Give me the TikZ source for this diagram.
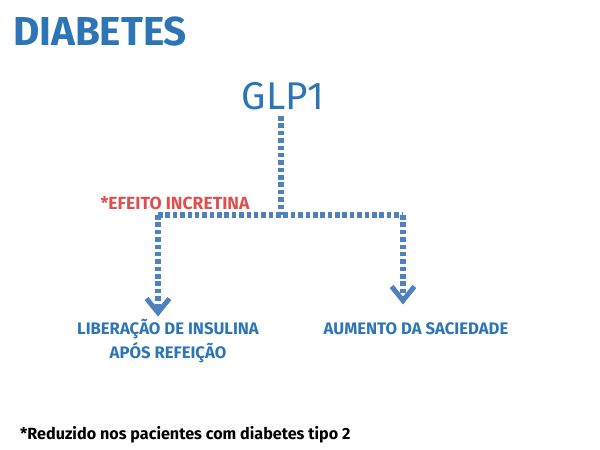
\documentclass[tikz,border=0pt]{standalone}
\usepackage{fontspec}
\setmainfont{Fira Sans}
\usetikzlibrary{arrows.meta}

\definecolor{titleblue}{RGB}{46,117,182}
\definecolor{lineblue}{RGB}{79,129,189}
\definecolor{notered}{RGB}{222,80,80}

\begin{document}
\begin{tikzpicture}[x=0.02cm, y=-0.02cm,
  dotline/.style={lineblue, line width=3.3pt, dash pattern=on 2.6pt off 1.6pt},
  dotarrow/.style={dotline, -{Straight Barb[length=8pt, width=13pt, line width=2.8pt]}},
  effect/.style={titleblue, font=\fontsize{9.5}{13.6}\selectfont\bfseries, align=center}]

% Canvas
\useasboundingbox (0,0) rectangle (600,450);

% Title and hormone
\node[titleblue, font=\fontsize{23}{27}\selectfont\bfseries] (title) at (100,31) {DIABETES};
\node[titleblue, font=\fontsize{22}{27}\selectfont] (glp) at (283,96) {GLP1};

% Branch points
\coordinate (junc) at (281,215);
\coordinate (left) at (158,215);
\coordinate (right) at (403,215);

% Effects
\node[effect] (lib) at (168,341) {LIBERAÇÃO DE INSULINA\\APÓS REFEIÇÃO};
\node[effect] (aum) at (416,329) {AUMENTO DA SACIEDADE};

% Dotted connectors
\draw[dotline] (glp.south -| junc) -- (junc);
\draw[dotline] (left) -- (right);
\draw[dotarrow] (left) -- ([yshift=-2pt]lib.north -| left);
\draw[dotarrow] (right) -- ([yshift=7pt]aum.north -| right);

% Labels
\node[notered, font=\fontsize{10}{12}\selectfont\bfseries] (incr) at (175,203) {*EFEITO INCRETINA};
\node[anchor=west, font=\fontsize{9.2}{11}\selectfont\bfseries] (note) at (14,435) {*Reduzido nos pacientes com diabetes tipo 2};

\end{tikzpicture}
\end{document}
